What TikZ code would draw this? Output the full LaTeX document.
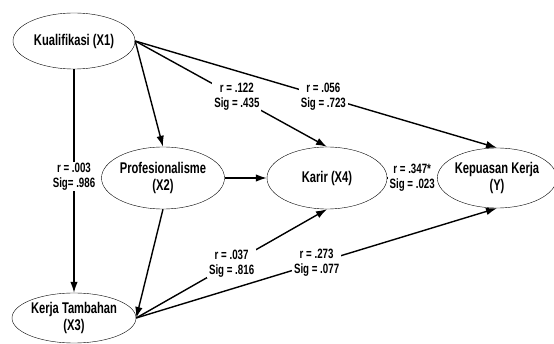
\documentclass[tikz,border=0pt]{standalone}
\usepackage{fontspec}
\setmainfont[FakeStretch=0.72]{Liberation Sans}
\usepackage{tikz}
\usetikzlibrary{shapes.geometric, arrows.meta, positioning}

\tikzset{
    varnode/.style={draw, ellipse, thin, inner sep=0pt, align=center, font=\fontsize{15.5}{17.5}\selectfont\bfseries},
    path/.style={-{Latex[length=11pt, width=7.5pt]}, line width=1.4pt},
    coef/.style={fill=white, inner xsep=2pt, inner ysep=1pt, align=center, font=\fontsize{13.5}{15}\selectfont\bfseries}
}

\begin{document}
\begin{tikzpicture}[x=1pt, y=-1pt]
    \useasboundingbox (0, 0) rectangle (554, 344);

    % Variables
    \node[varnode, minimum width=122pt, minimum height=56pt] (x1) at (74, 41) {Kualifikasi (X1)};
    \node[varnode, minimum width=123pt, minimum height=62pt] (x2) at (163, 178) {Profesionalisme\\(X2)};
    \node[varnode, minimum width=120pt, minimum height=62pt] (x4) at (327, 178) {Karir (X4)};
    \node[varnode, minimum width=112pt, minimum height=60pt] (y) at (497, 178) {Kepuasan Kerja\\(Y)};
    \node[varnode, minimum width=124pt, minimum height=50pt] (x3) at (74, 318) {Kerja Tambahan\\(X3)};

    % Paths from X1
    \draw[path] (x1.east) -- (x2.north);
    \draw[path] (x1.east) -- node[coef, pos=0.53] {r = .122\\Sig = .435} (x4.north);
    \draw[path] (x1.east) -- node[coef, pos=0.52] {r = .056\\Sig = .723} (y.north);
    \draw[path] (x1.south) -- node[coef, pos=0.48] {r = .003\\Sig= .986} (x3.north);

    % Paths from X2
    \draw[path] (x2.east) -- (x4.west);
    \draw[path] (x2.south) -- (x3.east);

    % Paths from X3
    \draw[path] (x3.east) -- node[coef, pos=0.5] {r = .037\\Sig = .816} (x4.south);
    \draw[path] (x3.east) -- node[coef, pos=0.5] {r = .273\\Sig = .077} (y.south);

    % Path from X4
    \draw[path] (x4.east) -- node[coef] {r = .347*\\Sig = .023} (y.west);

\end{tikzpicture}
\end{document}
